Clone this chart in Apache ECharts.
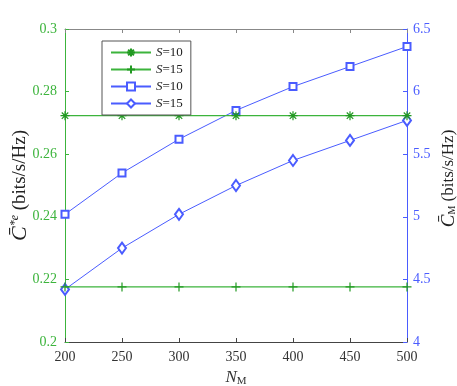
<!DOCTYPE html>
<html>
<head>
<meta charset="utf-8">
<script src="https://cdn.jsdelivr.net/npm/echarts@6/dist/echarts.min.js"></script>
<style>
  html, body { margin: 0; padding: 0; background: #fff; }
  #chart { width: 457px; height: 386px; }
</style>
</head>
<body>
<div id="chart"></div>
<script>
// x axis values (N_M)
var nm = [200, 250, 300, 350, 400, 450, 500];
// left axis: C_e* (green)
var ceS10 = [0.2723, 0.2723, 0.2723, 0.2723, 0.2723, 0.2723, 0.2723];
var ceS15 = [0.2176, 0.2176, 0.2176, 0.2176, 0.2176, 0.2176, 0.2176];
// right axis: C_M (blue)
var cmS10 = [5.02, 5.35, 5.62, 5.85, 6.04, 6.20, 6.36];
var cmS15 = [4.42, 4.75, 5.02, 5.25, 5.45, 5.61, 5.77];
var legendLabels = ['S=10', 'S=15', 'S=10', 'S=15'];

var green = '#3cb43c';
var blue = '#4a5cff';
var serif = 'Liberation Serif';

function pairs(xs, ys) {
    return xs.map(function(x, i) { return [x, ys[i]]; });
}

var chart = echarts.init(document.getElementById('chart'));

var asterisk = 'path://M0,-5L0,5M-5,0L5,0M-3.6,-3.6L3.6,3.6M-3.6,3.6L3.6,-3.6';
var plus = 'path://M0,-5L0,5M-5,0L5,0';

var option = {
    animation: false,
    backgroundColor: '#fff',
    textStyle: { fontFamily: serif },
    grid: { left: 65, right: 50, top: 29, bottom: 44, containLabel: false, outerBoundsMode: 'none' },
    legend: {
        orient: 'vertical',
        left: 102,
        top: 41,
        padding: [5, 8, 5, 8],
        itemWidth: 40,
        itemHeight: 10,
        itemGap: 4,
        backgroundColor: '#fff',
        borderColor: '#555',
        borderWidth: 1,
        borderRadius: 0,
        data: ['a', 'b', 'c', 'd'],
        formatter: function(name) {
            var lbl = legendLabels[['a', 'b', 'c', 'd'].indexOf(name)];
            return '{i|S}{t|' + lbl.slice(1) + '}';
        },
        textStyle: {
            fontFamily: serif,
            fontSize: 13,
            color: '#222',
            rich: {
                i: { fontFamily: serif, fontStyle: 'italic', fontSize: 13, color: '#222' },
                t: { fontFamily: serif, fontSize: 13, color: '#222' }
            }
        }
    },
    xAxis: [
        {
            type: 'value',
            min: 200,
            max: 500,
            interval: 50,
            name: '{n|N}{s|M}',
            nameLocation: 'middle',
            nameGap: 21,
            nameTextStyle: {
                rich: {
                    n: { fontFamily: serif, fontStyle: 'italic', fontSize: 17, color: '#333' },
                    s: { fontFamily: serif, fontSize: 11, color: '#333', verticalAlign: 'bottom', padding: [8, 0, 0, 0] }
                }
            },
            axisLine: { lineStyle: { color: '#444', width: 1 } },
            axisTick: { inside: true, length: 4, lineStyle: { color: '#444' } },
            axisLabel: { fontFamily: serif, fontSize: 14, color: '#333', margin: 8 },
            splitLine: { show: false }
        },
        {
            type: 'value',
            position: 'top',
            min: 200,
            max: 500,
            interval: 50,
            axisLine: { show: true, lineStyle: { color: '#888', width: 1 } },
            axisTick: { show: true, inside: true, length: 4, lineStyle: { color: '#888' } },
            axisLabel: { show: false },
            splitLine: { show: false }
        }
    ],
    yAxis: [
        {
            type: 'value',
            min: 0.2,
            max: 0.3,
            interval: 0.02,
            position: 'left',
            name: '{c|C\u0304}{sup|*}{sup|e}{t| (bits/s/Hz)}',
            nameLocation: 'middle',
            nameRotate: 90,
            nameGap: 34,
            nameMoveOverlap: false,
            nameTextStyle: {
                rich: {
                    c: { fontFamily: serif, fontStyle: 'italic', fontSize: 22, color: '#222' },
                    sup: { fontFamily: serif, fontStyle: 'italic', fontSize: 12, color: '#222', padding: [0, 0, 10, 0] },
                    t: { fontFamily: serif, fontSize: 19, color: '#222' }
                }
            },
            axisLine: { show: true, lineStyle: { color: green, width: 1 } },
            axisTick: { show: true, inside: true, length: 4, lineStyle: { color: green } },
            axisLabel: {
                fontFamily: serif, fontSize: 14, color: green, margin: 8,
                formatter: function(v) { return String(+v.toFixed(2)); }
            },
            splitLine: { show: false }
        },
        {
            type: 'value',
            min: 4,
            max: 6.5,
            interval: 0.5,
            position: 'right',
            name: '{c|C\u0304}{sub|M}{t| (bits/s/Hz)}',
            nameLocation: 'middle',
            nameRotate: 90,
            nameGap: 32,
            nameMoveOverlap: false,
            nameTextStyle: {
                padding: [0, 0, 0, 14],
                rich: {
                    c: { fontFamily: serif, fontStyle: 'italic', fontSize: 19, color: '#222' },
                    sub: { fontFamily: serif, fontSize: 10, color: '#222', padding: [8, 0, 0, 0] },
                    t: { fontFamily: serif, fontSize: 17, color: '#222' }
                }
            },
            axisLine: { show: true, lineStyle: { color: blue, width: 1 } },
            axisTick: { show: true, inside: true, length: 4, lineStyle: { color: blue } },
            axisLabel: { fontFamily: serif, fontSize: 14, color: blue, margin: 6 },
            splitLine: { show: false }
        }
    ],
    series: [
        {
            name: 'a',
            type: 'line',
            yAxisIndex: 0,
            data: pairs(nm, ceS10),
            symbol: asterisk,
            symbolSize: 9,
            lineStyle: { color: green, width: 1.2 },
            itemStyle: { color: green, borderColor: '#229922', borderWidth: 1.2 },
            z: 3
        },
        {
            name: 'b',
            type: 'line',
            yAxisIndex: 0,
            data: pairs(nm, ceS15),
            symbol: plus,
            symbolSize: 9,
            lineStyle: { color: green, width: 1.2 },
            itemStyle: { color: green, borderColor: '#229922', borderWidth: 1.2 },
            z: 3
        },
        {
            name: 'c',
            type: 'line',
            yAxisIndex: 1,
            data: pairs(nm, cmS10),
            symbol: 'emptyRect',
            symbolSize: 7,
            lineStyle: { color: blue, width: 1 },
            itemStyle: { color: blue, borderColor: blue, borderWidth: 1 },
            z: 2
        },
        {
            name: 'd',
            type: 'line',
            yAxisIndex: 1,
            data: pairs(nm, cmS15),
            symbol: 'emptyDiamond',
            symbolSize: [8, 11],
            lineStyle: { color: blue, width: 1 },
            itemStyle: { color: blue, borderColor: blue, borderWidth: 1 },
            z: 2
        }
    ]
};

chart.setOption(option);
</script>
</body>
</html>
